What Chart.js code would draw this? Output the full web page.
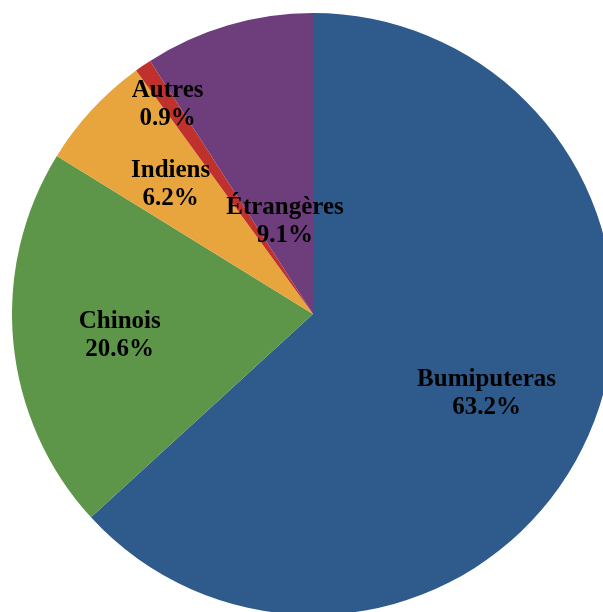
<!DOCTYPE html>
<html>
<head>
<meta charset="utf-8">
<script src="https://cdn.jsdelivr.net/npm/chart.js@4"></script>
<style>
  html, body { margin: 0; padding: 0; background: #fff; overflow: hidden; width: 603px; height: 612px; }
  #wrap { position: absolute; left: 12px; top: 13px; width: 602px; height: 602px; }
</style>
</head>
<body>
<div id="wrap"><canvas id="pie"></canvas></div>
<script>
// population shares, clockwise from 12 o'clock
const groups = ['Bumiputeras', 'Chinois', 'Indiens', 'Autres', 'Étrangères'];
const shares = [63.2, 20.6, 6.2, 0.9, 9.1];
const colors = ['#2E5A8C', '#5D9648', '#E9A53D', '#C0302D', '#6E3E7C'];

// how far out along the radius each label sits
const labelRadius = [0.63, 0.645, 0.645, 0.855, 0.33];

const sliceLabels = {
    id: 'sliceLabels',
    afterDatasetsDraw(chart) {
        const ctx = chart.ctx;
        const arcs = chart.getDatasetMeta(0).data;
        ctx.save();
        ctx.font = 'bold 25px "Liberation Serif", "Times New Roman", serif';
        ctx.fillStyle = '#000';
        ctx.textAlign = 'center';
        ctx.textBaseline = 'middle';
        arcs.forEach((arc, i) => {
            const mid = (arc.startAngle + arc.endAngle) / 2;
            const r = arc.outerRadius * labelRadius[i];
            const x = arc.x + Math.cos(mid) * r;
            const y = arc.y + Math.sin(mid) * r;
            ctx.fillText(groups[i], x, y - 11);
            ctx.fillText(shares[i].toFixed(1) + '%', x, y + 17);
        });
        ctx.restore();
    }
};

new Chart(document.getElementById('pie'), {
    type: 'pie',
    data: {
        labels: groups,
        datasets: [{
            data: shares,
            backgroundColor: colors,
            borderWidth: 0
        }]
    },
    options: {
        responsive: true,
        maintainAspectRatio: false,
        animation: false,
        layout: { padding: 0 },
        plugins: {
            legend: { display: false },
            tooltip: { enabled: false }
        }
    },
    plugins: [sliceLabels]
});
</script>
</body>
</html>
